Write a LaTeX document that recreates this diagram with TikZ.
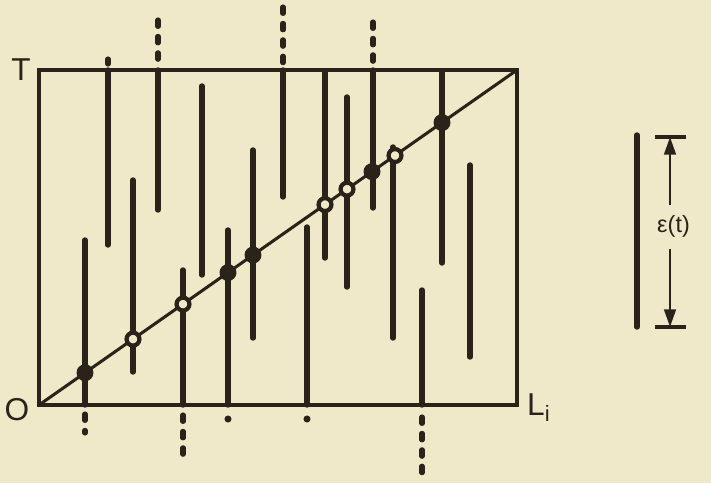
\documentclass[tikz,border=0pt]{standalone}
\usepackage{fontspec}
\setmainfont{Liberation Sans}
\usetikzlibrary{arrows.meta,positioning,calc}
\definecolor{paper}{RGB}{240,233,201}
\definecolor{ink}{RGB}{42,35,26}

\begin{document}
\begin{tikzpicture}[
    x=0.03cm, y=-0.03cm,
    frame/.style={ink, line width=2.6pt},
    seg/.style={ink, line width=4.6pt, line cap=round},
    dots/.style={ink, line width=4.4pt, line cap=round, dash pattern=on 5.5pt off 8.5pt},
    fullmark/.style={circle, fill=ink, minimum size=14.5pt, inner sep=0pt},
    ringmark/.style={circle, draw=ink, line width=3.6pt, fill=paper, minimum size=11pt, inner sep=0pt},
    lbl/.style={text=ink, inner sep=0pt, font=\fontsize{27}{29}\selectfont},
    dim/.style={ink, line width=2pt, -{Triangle[length=15pt,width=10pt]}}
]
% paper
\fill[paper] (0,0) rectangle (711,483);
\useasboundingbox (0,0) rectangle (711,483);

% box corners
\coordinate (O) at (39,405);
\coordinate (T) at (39,70);
\coordinate (L) at (517,405);
\coordinate (TL) at (517,70);

% segments: x / top / bottom
\foreach \x/\a/\b in {85/240/405, 108/70/245, 133/180/372, 158/70/210,
                      183/270/405, 202/86/275, 228/230/405, 253/150/338,
                      283/70/197, 307/227/405, 325/72/258, 347/97/287,
                      373/70/208, 393/147/338, 422/290/405, 442/72/263,
                      470/165/357}
  \draw[seg] (\x,\a) -- (\x,\b);

% parts cut off by the box
\foreach \x/\a/\b in {108/59/64, 158/20/64, 283/7/64, 373/22/64,
                      85/414/433, 183/415/463, 422/417/481}
  \draw[dots] (\x,\a) -- (\x,\b);
\foreach \x in {228,307}
  \fill[ink] (\x,419) circle (3pt);

% box and diagonal
\draw[frame] (O) rectangle (TL);
\draw[frame] (O) -- (TL);

% crossings on the diagonal
\foreach \x [count=\i] in {85,228,253,372,442}
  \node[fullmark] (f\i) at (\x,{405-(\x-39)*0.7008}) {};
\foreach \x [count=\i] in {133,183,325,347,395}
  \node[ringmark] (r\i) at (\x,{405-(\x-39)*0.7008}) {};

% axis labels
\node[lbl] (lblT) at (21,70) {T};
\node[lbl] (lblO) at (17,410) {O};
\node[lbl, anchor=west] (lblL) at (527,408) {L\textsubscript{i}};

% one segment with its length
\draw[seg] (637,135) -- (637,327);
\coordinate (capT) at (670,137);
\coordinate (capB) at (670,327);
\draw[ink, line width=2.8pt] (655,137) -- (686,137);
\draw[ink, line width=2.8pt] (655,327) -- (686,327);
\node[text=ink, anchor=west, inner sep=0pt, font=\fontsize{20}{22}\selectfont] (eps) at (657,226) {ε(t)};
\draw[dim] (eps.north -| capT) ++(0,-10) -- (capT);
\draw[dim] (eps.south -| capT) ++(0,12) -- (capB);
\end{tikzpicture}
\end{document}
